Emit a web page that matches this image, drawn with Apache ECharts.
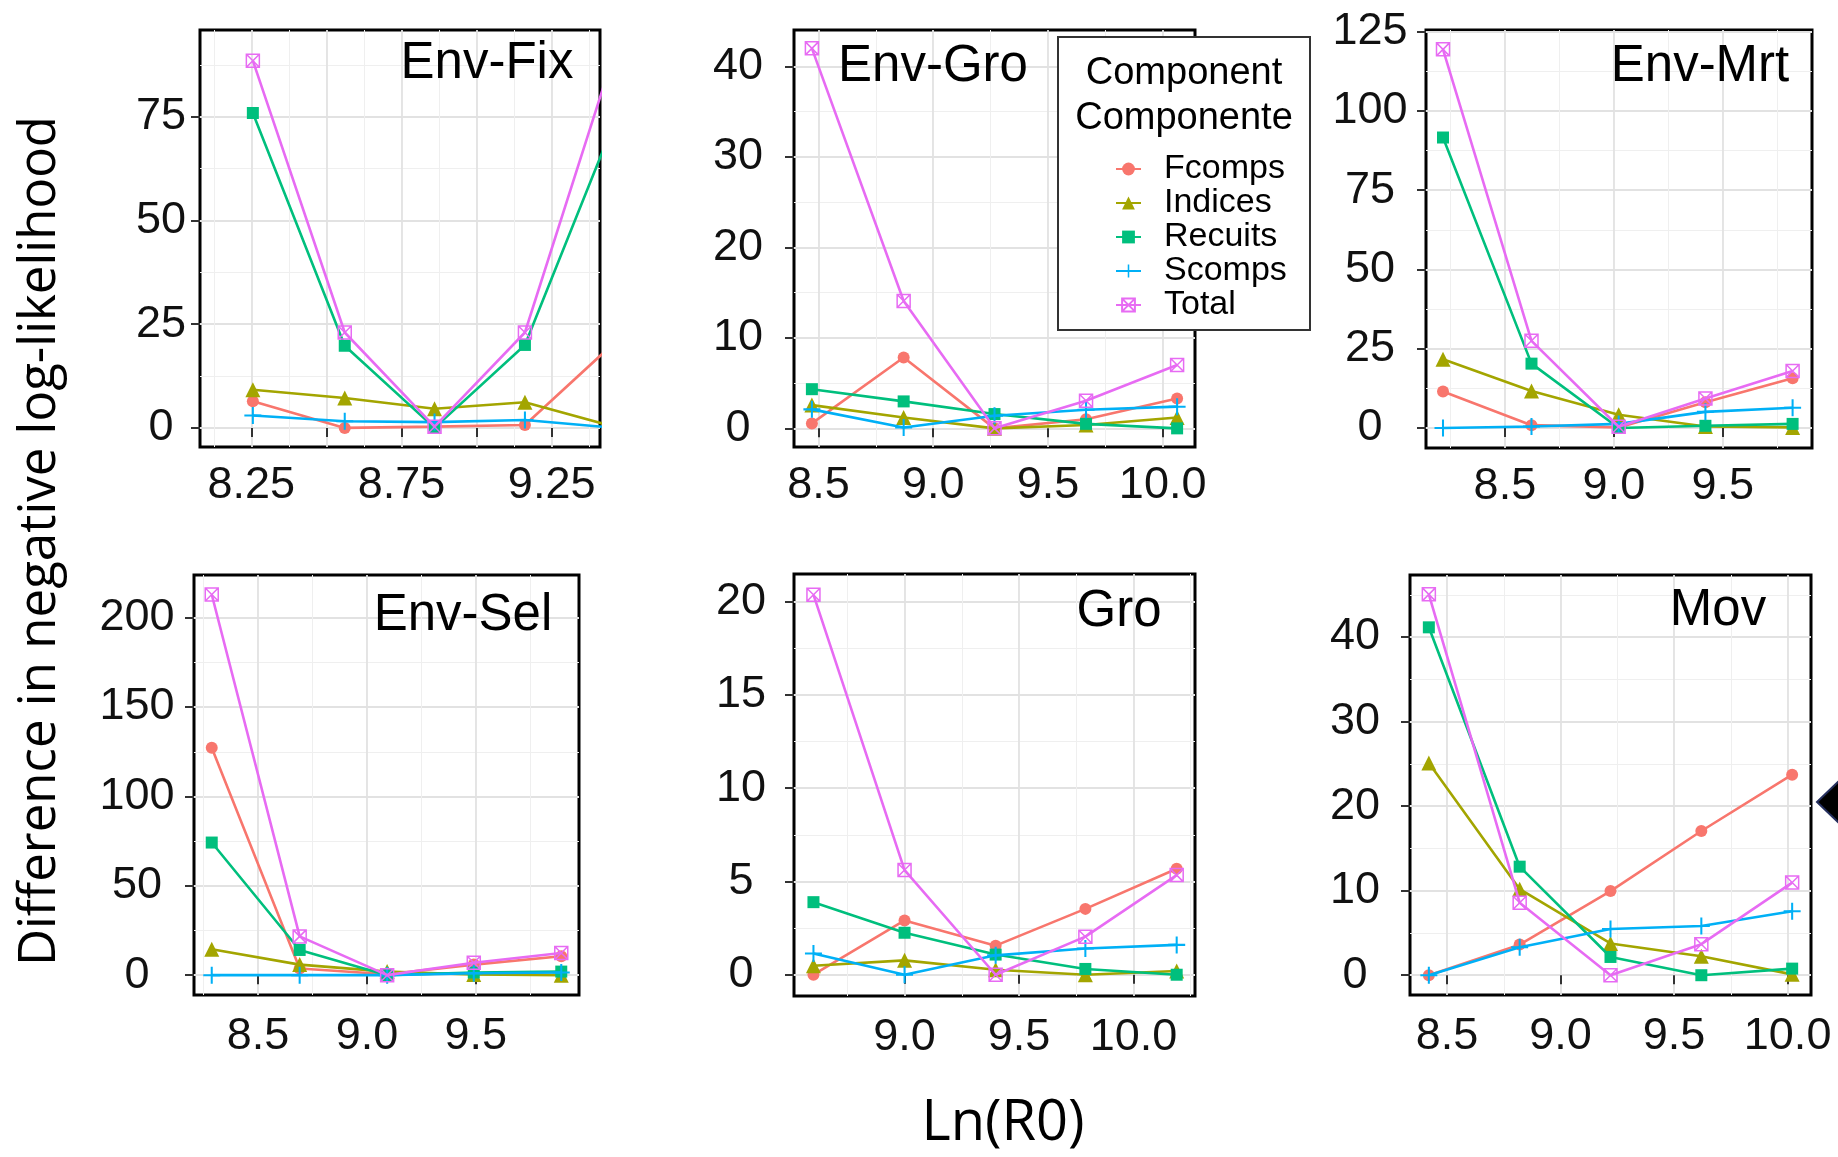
<!DOCTYPE html>
<html>
<head>
<meta charset="utf-8">
<script src="https://cdn.jsdelivr.net/npm/echarts@6/dist/echarts.min.js"></script>
<style>
  html, body { margin: 0; padding: 0; background: #ffffff; }
  #chart { width: 1838px; height: 1157px; }
</style>
</head>
<body>
<div id="chart"></div>
<script>
// Likelihood profiles over Ln(R0): one panel per model variant, five likelihood components each.
const componentNames = ['Fcomps', 'Indices', 'Recuits', 'Scomps', 'Total'];
const componentColors = ['#F8766D', '#A3A500', '#00BF7D', '#00B0F6', '#E76BF3'];

// Env-Fix
const envFixLnR0    = [8.255, 8.561, 8.860, 9.161, 9.463];
const envFixFcomps  = [6.4, 0.0, 0.3, 0.7, 20.8];
const envFixIndices = [9.2, 7.2, 4.6, 6.2, 0.2];
const envFixRecuits = [75.9, 19.8, 0.0, 20.0, 74.4];
const envFixScomps  = [3.0, 1.6, 1.4, 1.9, 0.0];
const envFixTotal   = [88.5, 23.0, 0.3, 23.0, 91.4];
const envFixXTicks  = [8.25, 8.5, 8.75, 9.0, 9.25];
const envFixXLabels = [8.25, 8.75, 9.25];
const envFixYTicks  = [0, 25, 50, 75];

// Env-Gro
const envGroLnR0    = [8.471, 8.871, 9.267, 9.666, 10.063];
const envGroFcomps  = [0.55, 7.83, 0.0, 1.0, 3.3];
const envGroIndices = [2.57, 1.2, 0.0, 0.37, 1.2];
const envGroRecuits = [4.33, 2.98, 1.58, 0.5, 0.0];
const envGroScomps  = [2.1, 0.1, 1.4, 2.05, 2.4];
const envGroTotal   = [42.0, 14.07, 0.0, 3.05, 7.0];
const envGroXTicks  = [8.5, 9.0, 9.5, 10.0];
const envGroYTicks  = [0, 10, 20, 30, 40];

// Env-Mrt
const envMrtLnR0    = [8.216, 8.622, 9.022, 9.420, 9.820];
const envMrtFcomps  = [11.5, 0.9, 0.2, 8.1, 15.7];
const envMrtIndices = [21.7, 11.7, 4.2, 0.5, 0.2];
const envMrtRecuits = [91.6, 20.3, 0.0, 0.7, 1.3];
const envMrtScomps  = [0.0, 0.5, 1.3, 5.1, 6.4];
const envMrtTotal   = [119.4, 27.5, 0.4, 9.3, 18.0];
const envMrtXTicks  = [8.5, 9.0, 9.5];
const envMrtYTicks  = [0, 25, 50, 75, 100, 125];

// Env-Sel
const envSelLnR0    = [8.287, 8.691, 9.093, 9.491, 9.893];
const envSelFcomps  = [127.3, 3.7, 0.5, 5.9, 10.6];
const envSelIndices = [14.5, 5.9, 2.0, 0.4, 0.0];
const envSelRecuits = [74.2, 14.1, 0.0, 1.5, 2.0];
const envSelScomps  = [0.0, 0.0, 0.0, 1.1, 1.5];
const envSelTotal   = [213.0, 21.7, 0.0, 6.9, 12.4];
const envSelXTicks  = [8.5, 9.0, 9.5];
const envSelYTicks  = [0, 50, 100, 150, 200];

// Gro
const groLnR0    = [8.602, 9.000, 9.398, 9.790, 10.189];
const groFcomps  = [0.0, 2.91, 1.56, 3.53, 5.68];
const groIndices = [0.48, 0.77, 0.27, 0.0, 0.2];
const groRecuits = [3.89, 2.25, 1.08, 0.31, 0.0];
const groScomps  = [1.14, 0.0, 1.04, 1.41, 1.6];
const groTotal   = [20.37, 5.61, 0.0, 2.04, 5.34];
const groXTicks  = [9.0, 9.5, 10.0];
const groYTicks  = [0, 5, 10, 15, 20];

// Mov
const movLnR0    = [8.420, 8.820, 9.220, 9.620, 10.020];
const movFcomps  = [0.0, 3.62, 9.95, 17.06, 23.72];
const movIndices = [25.1, 10.18, 3.76, 2.25, 0.1];
const movRecuits = [41.15, 12.84, 2.16, 0.0, 0.78];
const movScomps  = [0.0, 3.3, 5.46, 5.83, 7.57];
const movTotal   = [45.05, 8.58, 0.0, 3.67, 10.96];
const movXTicks  = [8.5, 9.0, 9.5, 10.0];
const movYTicks  = [0, 10, 20, 30, 40];

const panels = [
  { name: 'Env-Fix', x: envFixLnR0, comps: [envFixFcomps, envFixIndices, envFixRecuits, envFixScomps, envFixTotal],
    xTicks: envFixXTicks, xLabels: envFixXLabels, xDigits: 2, yTicks: envFixYTicks,
    xRange: [8.079, 9.411], yRange: [-4.6, 95.9],
    box: [200, 30, 400, 417], yMargin: 39, xMargin: 16, tag: [487, 64] },
  { name: 'Env-Gro', x: envGroLnR0, comps: [envGroFcomps, envGroIndices, envGroRecuits, envGroScomps, envGroTotal],
    xTicks: envGroXTicks, xLabels: envGroXTicks, xDigits: 1, yTicks: envGroYTicks,
    xRange: [8.393, 10.141], yRange: [-2.06, 44.03],
    box: [794, 30, 401, 417], yMargin: 56, xMargin: 16, tag: [933, 67] },
  { name: 'Env-Mrt', x: envMrtLnR0, comps: [envMrtFcomps, envMrtIndices, envMrtRecuits, envMrtScomps, envMrtTotal],
    xTicks: envMrtXTicks, xLabels: envMrtXTicks, xDigits: 1, yTicks: envMrtYTicks,
    xRange: [8.138, 9.909], yRange: [-6.3, 125.5],
    box: [1426, 30, 386, 418], yMargin: 56, xMargin: 16, tag: [1700, 67] },
  { name: 'Env-Sel', x: envSelLnR0, comps: [envSelFcomps, envSelIndices, envSelRecuits, envSelScomps, envSelTotal],
    xTicks: envSelXTicks, xLabels: envSelXTicks, xDigits: 1, yTicks: envSelYTicks,
    xRange: [8.2055, 9.9745], yRange: [-11.1, 223.9],
    box: [194, 575, 385, 420], yMargin: 57, xMargin: 19, tag: [463, 616] },
  { name: 'Gro', x: groLnR0, comps: [groFcomps, groIndices, groRecuits, groScomps, groTotal],
    xTicks: groXTicks, xLabels: groXTicks, xDigits: 1, yTicks: groYTicks,
    xRange: [8.517, 10.269], yRange: [-1.14, 21.48],
    box: [794, 574, 401, 422], yMargin: 53, xMargin: 19, tag: [1119, 612] },
  { name: 'Mov', x: movLnR0, comps: [movFcomps, movIndices, movRecuits, movScomps, movTotal],
    xTicks: movXTicks, xLabels: movXTicks, xDigits: 1, yTicks: movYTicks,
    xRange: [8.337, 10.103], yRange: [-2.34, 47.34],
    box: [1410, 575, 401, 420], yMargin: 55, xMargin: 19, tag: [1718, 611] }
];

const ARIAL = '"Liberation Sans", Arial, Helvetica, sans-serif';
const CALI = '"Open Sans", "Noto Sans", sans-serif';

// ggplot-like point shapes: circle, triangle, square, plus, square with a cross
const PLUS = 'path://M4.4,0h1.2v4.4h4.4v1.2h-4.4v4.4h-1.2v-4.4h-4.4v-1.2h4.4z';
const SQUARE_X = 'path://M0,0L10,0L10,10L0,10ZM0,0L10,10M10,0L0,10';
const markStyles = [
  { symbol: 'circle', size: 12 },
  { symbol: 'triangle', size: 15 },
  { symbol: 'rect', size: 12 },
  { symbol: PLUS, size: 17 },
  { symbol: SQUARE_X, size: 13, hollow: true }
];

// half-step positions between the labelled breaks, for the faint minor grid
function minorBreaks(ticks, range) {
  const step = ticks[1] - ticks[0];
  const out = [];
  for (let v = ticks[0] - step / 2; v <= range[1] + 1e-9; v += step) {
    if (v >= range[0]) out.push(+v.toFixed(6));
  }
  return out;
}

const grids = [], xAxes = [], yAxes = [], series = [], graphics = [];

panels.forEach((p, i) => {
  const [left, top, width, height] = p.box;
  grids.push({ left, top, width, height, show: true, borderColor: '#000', borderWidth: 3, backgroundColor: 'transparent' });

  xAxes.push({
    gridIndex: i, type: 'value', min: p.xRange[0], max: p.xRange[1],
    axisLine: { show: false },
    axisTick: { show: true, inside: false, length: 9, lineStyle: { color: '#333', width: 2 }, customValues: p.xTicks },
    axisLabel: { customValues: p.xLabels, margin: p.xMargin, fontSize: 45, fontFamily: ARIAL, color: '#111',
                 formatter: v => Number(v).toFixed(p.xDigits) },
    splitLine: { show: true, lineStyle: { color: '#e2e2e2', width: 1.8 } }
  });
  xAxes.push({
    gridIndex: i, type: 'value', min: p.xRange[0], max: p.xRange[1],
    axisLine: { show: false }, axisLabel: { show: false },
    axisTick: { show: false, customValues: minorBreaks(p.xTicks, p.xRange) },
    splitLine: { show: true, lineStyle: { color: '#efefef', width: 1 } }
  });
  yAxes.push({
    gridIndex: i, type: 'value', min: p.yRange[0], max: p.yRange[1],
    axisLine: { show: false },
    axisTick: { show: true, inside: false, length: 9, lineStyle: { color: '#333', width: 2 }, customValues: p.yTicks },
    axisLabel: { customValues: p.yTicks, margin: p.yMargin, align: 'center', fontSize: 45, fontFamily: ARIAL, color: '#111',
                 formatter: v => String(Math.round(v)) },
    splitLine: { show: true, lineStyle: { color: '#e2e2e2', width: 1.8 } }
  });
  yAxes.push({
    gridIndex: i, type: 'value', min: p.yRange[0], max: p.yRange[1],
    axisLine: { show: false }, axisLabel: { show: false },
    axisTick: { show: false, customValues: minorBreaks(p.yTicks, p.yRange) },
    splitLine: { show: true, lineStyle: { color: '#efefef', width: 1 } }
  });

  p.comps.forEach((vals, k) => {
    const m = markStyles[k];
    const c = componentColors[k];
    series.push({
      type: 'line', name: componentNames[k],
      xAxisIndex: 2 * i, yAxisIndex: 2 * i,
      data: p.x.map((xv, j) => [xv, vals[j]]),
      symbol: m.symbol, symbolSize: m.size, showAllSymbol: true,
      lineStyle: { color: c, width: 2.6 },
      itemStyle: m.hollow ? { color: 'rgba(0,0,0,0)', borderColor: c, borderWidth: 1.5 } : { color: c },
      emphasis: { disabled: true },
      clip: true, z: 2 + k * 0.1
    });
  });

  graphics.push({
    type: 'text', z: 10,
    style: { text: p.name, x: p.tag[0], y: p.tag[1], fill: '#000', fontSize: 51, fontFamily: ARIAL,
             align: 'center', verticalAlign: 'middle', textAlign: 'center', textVerticalAlign: 'middle' }
  });
});

// legend panel
graphics.push({
  type: 'rect', z: 20,
  shape: { x: 1058, y: 37, width: 252, height: 293 },
  style: { fill: '#ffffff', stroke: '#333333', lineWidth: 2 }
});
['Component', 'Componente'].forEach((t, j) => {
  graphics.push({
    type: 'text', z: 21,
    style: { text: t, x: 1184, y: 74 + j * 45, fill: '#000', fontSize: 38, fontFamily: ARIAL,
             align: 'center', verticalAlign: 'middle', textAlign: 'center', textVerticalAlign: 'middle' }
  });
});

// axis titles
graphics.push({
  type: 'text', z: 21, x: 40, y: 541, rotation: Math.PI / 2,
  style: { text: 'Difference in negative log-likelihood', x: 0, y: 0, fill: '#000', fontSize: 51, fontFamily: CALI,
           align: 'center', verticalAlign: 'middle', textAlign: 'center', textVerticalAlign: 'middle' }
});
graphics.push({
  type: 'text', z: 21,
  style: { text: 'Ln(R0)', x: 1003, y: 1124, fill: '#000', fontSize: 56, fontFamily: CALI,
           align: 'center', verticalAlign: 'middle', textAlign: 'center', textVerticalAlign: 'middle' }
});

// pointer arrow at the right margin
graphics.push({
  type: 'polygon', z: 21,
  shape: { points: [[1817, 802], [1842, 778], [1842, 826]] },
  style: { fill: '#000', stroke: '#26305f', lineWidth: 2 }
});

const chart = echarts.init(document.getElementById('chart'), null, { renderer: 'canvas' });
chart.setOption({
  animation: false,
  backgroundColor: '#ffffff',
  grid: grids,
  xAxis: xAxes,
  yAxis: yAxes,
  series: series,
  legend: {
    data: componentNames, orient: 'vertical', left: 1110, top: 147, z: 30,
    selectedMode: false, itemWidth: 25, itemHeight: 16, itemGap: 0,
    textStyle: { fontFamily: ARIAL, fontSize: 34, color: '#000', padding: [0, 0, 0, 18] }
  },
  graphic: { elements: graphics }
});
</script>
</body>
</html>
